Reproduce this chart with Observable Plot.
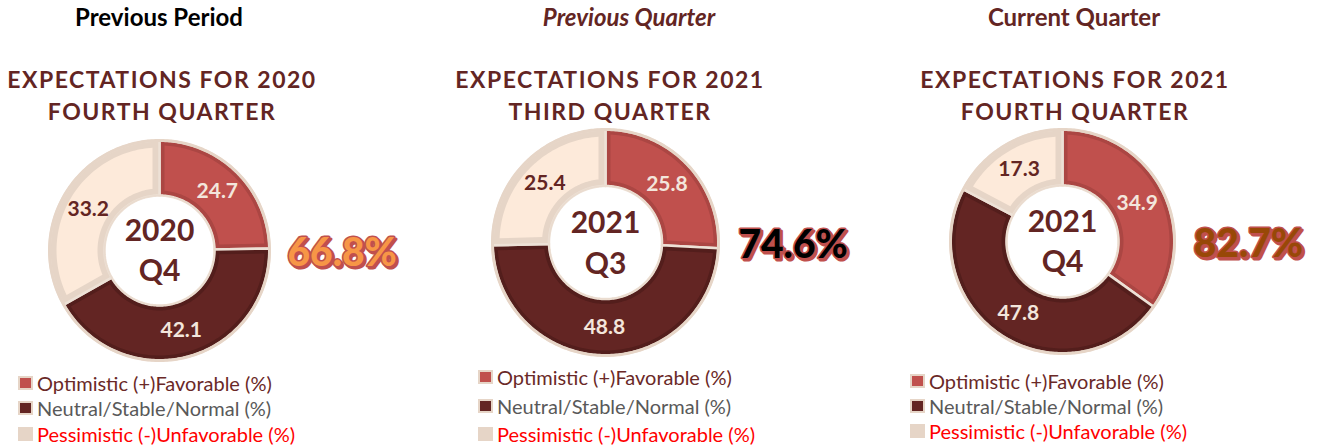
<!DOCTYPE html>
<html><head><meta charset="utf-8">
<script src="https://cdn.jsdelivr.net/npm/d3@7"></script>
<script src="https://cdn.jsdelivr.net/npm/@observablehq/plot@0.6"></script>
<style>
body{margin:0;background:#fff;font-family:Lato,"Open Sans",sans-serif;}
#root{position:relative;width:1318px;height:445px;overflow:hidden;background:#fff;}
.abs{position:absolute;}
.hdr{font-size:24px;font-weight:700;white-space:nowrap;line-height:28px;transform:translateX(-50%);}
.sub{font-size:23px;font-weight:700;color:#632523;letter-spacing:1.5px;text-align:center;line-height:32px;white-space:nowrap;transform:translateX(-50%);}
.row{display:flex;align-items:center;white-space:nowrap;font-size:20px;}
.sw{width:15px;height:14px;box-sizing:border-box;margin-right:4px;flex:none;}
svg{max-width:none !important;}
</style></head><body><div id="root"></div>
<script>
// ---------- data ----------
const categories = ["Optimistic (+)Favorable (%)", "Neutral/Stable/Normal (%)", "Pessimistic (-)Unfavorable (%)"];
const panelHeaders = ["Previous Period", "Previous Quarter", "Current Quarter"];
const titleLine1 = ["EXPECTATIONS FOR 2020", "EXPECTATIONS FOR 2021", "EXPECTATIONS FOR 2021"];
const titleLine2 = ["FOURTH QUARTER", "THIRD QUARTER", "FOURTH QUARTER"];
const centerYears = ["2020", "2021", "2021"];
const centerQuarters = ["Q4", "Q3", "Q4"];
const optimistic = [24.7, 25.8, 34.9];
const neutral = [42.1, 48.8, 47.8];
const pessimistic = [33.2, 25.4, 17.3];

// ---------- styles / layout ----------
const fills = ["#c0504d", "#632523", "#fdeada"];
const bands = ["#ab4643", "#531e1c", "#e6d5c7"];
const bandPx = [5, 5, 7];
const labelColors = ["#f3e6dc", "#f3e6dc", "#632523"];
const legendTextColors = ["#6a2927", "#595959", "#ff0000"];
const swatchStyles = [
  "background:#c0504d;border:2px solid #e6d5c7;",
  "background:#632523;border:2px solid #e6d5c7;",
  "background:#e6d5c7;"
];
const layout = [
  {cx:159, cy:250, r:110, hx:159, sx:162, lx:18, lt:370, lh:25.5, hc:"#000", hs:"normal", pf:"#f79646", ps:"#c0504d"},
  {cx:605, cy:242, r:113, hx:629, sx:610, lx:478, lt:363, lh:28.5, hc:"#632523", hs:"italic", pf:"#000000", ps:"#c0504d"},
  {cx:1062, cy:241, r:112, hx:1074, sx:1075, lx:910, lt:368.5, lh:25, hc:"#632523", hs:"normal", pf:"#984807", ps:"#c0504d"}
];
const SVG_W = 440, SVG_H = 240, OFF_X = 160;
const R0 = 0.5, R1 = 1.0;
const fmt = d3.format(".1f");
const root = document.getElementById("root");

function ringPoints(a0, a1, r0, r1, insetPx, rPx) {
  const ins = insetPx / rPx;
  const ro = r1 - ins, ri = r0 + ins;
  const ao0 = a0 + ins / ro, ao1 = a1 - ins / ro;
  const ai0 = a0 + ins / ri, ai1 = a1 - ins / ri;
  const n = Math.max(6, Math.ceil((a1 - a0) / (2 * Math.PI) * 240));
  const pts = [];
  for (let i = 0; i <= n; i++) { const a = ao0 + (ao1 - ao0) * i / n; pts.push({x: ro * Math.sin(a), y: ro * Math.cos(a)}); }
  for (let i = n; i >= 0; i--) { const a = ai0 + (ai1 - ai0) * i / n; pts.push({x: ri * Math.sin(a), y: ri * Math.cos(a)}); }
  pts.push(pts[0]);
  return pts;
}
function circlePoints(r) {
  return d3.range(0, 361).map(k => ({x: r * Math.sin(k * Math.PI / 180), y: r * Math.cos(k * Math.PI / 180)}));
}

layout.forEach((L, p) => {
  const values = [optimistic[p], neutral[p], pessimistic[p]];
  const arcs = d3.pie().sort(null).value(d => d)(values);

  const h = document.createElement("div");
  h.className = "abs hdr";
  h.style.cssText += `left:${L.hx}px;top:3px;color:${L.hc};font-style:${L.hs};`;
  h.textContent = panelHeaders[p];
  root.appendChild(h);

  const s = document.createElement("div");
  s.className = "abs sub";
  s.style.cssText += `left:${L.sx}px;top:63px;`;
  s.innerHTML = titleLine1[p] + "<br>" + titleLine2[p];
  root.appendChild(s);

  const marks = [];
  arcs.forEach((a, i) => {
    marks.push(Plot.line(ringPoints(a.startAngle, a.endAngle, R0, R1, 0, L.r), {x: "x", y: "y", fill: bands[i], stroke: "#ede1d6", strokeWidth: 2.5, curve: "linear"}));
    marks.push(Plot.line(ringPoints(a.startAngle, a.endAngle, R0, R1, bandPx[i], L.r), {x: "x", y: "y", fill: fills[i], stroke: "none", curve: "linear"}));
  });
  marks.push(Plot.line(circlePoints(R1), {x: "x", y: "y", stroke: "#e6d5c7", strokeWidth: 3}));
  marks.push(Plot.line(circlePoints(R0), {x: "x", y: "y", stroke: "#eadbce", strokeWidth: 1.5}));

  const labels = arcs.map((a, i) => {
    const am = (a.startAngle + a.endAngle) / 2, rm = (R0 + R1) / 2;
    return {x: rm * Math.sin(am), y: rm * Math.cos(am), text: fmt(values[i]), color: labelColors[i]};
  });
  marks.push(Plot.text(labels, {x: "x", y: "y", text: "text", fill: "color", fontSize: 21, fontWeight: 700, fontFamily: "Lato"}));
  marks.push(Plot.text([centerYears[p]], {x: 0, y: 0.17, text: d => d, fill: "#632523", fontSize: 30, fontWeight: 700, fontFamily: "Lato"}));
  marks.push(Plot.text([centerQuarters[p]], {x: 0, y: -0.19, text: d => d, fill: "#632523", fontSize: 30, fontWeight: 700, fontFamily: "Lato"}));

  const pct = [fmt(optimistic[p] + neutral[p]) + "%"];
  marks.push(Plot.text(pct, {x: 1.66, y: -0.03, text: d => d, dx: 2, dy: 2, fill: L.ps, stroke: L.ps, strokeWidth: 3, fontSize: 39, fontWeight: 900, fontFamily: "Lato"}));
  marks.push(Plot.text(pct, {x: 1.66, y: -0.03, text: d => d, fill: L.pf, stroke: L.ps, strokeWidth: 3, paintOrder: "stroke", fontSize: 39, fontWeight: 900, fontFamily: "Lato"}));

  const chart = Plot.plot({
    width: SVG_W, height: SVG_H, margin: 0,
    x: {domain: [-OFF_X / L.r, (SVG_W - OFF_X) / L.r], axis: null},
    y: {domain: [-(SVG_H / 2) / L.r, (SVG_H / 2) / L.r], axis: null},
    color: {type: "identity"},
    style: {background: "transparent", overflow: "visible", maxWidth: "none"},
    marks
  });
  const wrap = document.createElement("div");
  wrap.className = "abs";
  wrap.style.cssText = `left:${L.cx - OFF_X}px;top:${L.cy - SVG_H / 2}px;width:${SVG_W}px;height:${SVG_H}px;`;
  wrap.appendChild(chart);
  root.appendChild(wrap);

  const lg = document.createElement("div");
  lg.className = "abs";
  lg.style.cssText = `left:${L.lx}px;top:${L.lt}px;`;
  categories.forEach((c, i) => {
    const row = document.createElement("div");
    row.className = "row";
    row.style.height = L.lh + "px";
    row.innerHTML = `<span class="sw" style="${swatchStyles[i]}"></span><span style="color:${legendTextColors[i]}">${c}</span>`;
    lg.appendChild(row);
  });
  root.appendChild(lg);
});
</script>
</body></html>
